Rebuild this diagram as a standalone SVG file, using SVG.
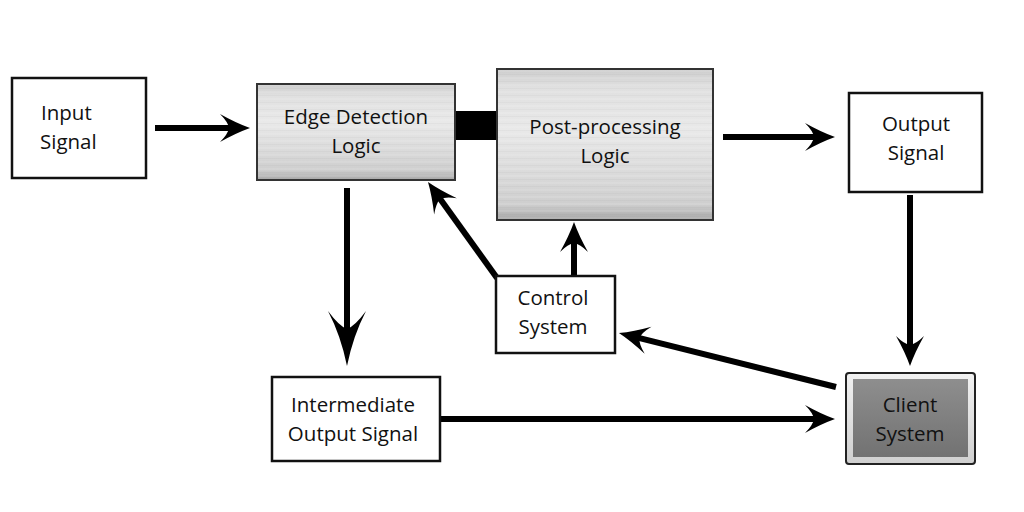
<svg xmlns="http://www.w3.org/2000/svg" width="1024" height="512" viewBox="0 0 1024 512">
<defs>
<style>
.box{fill:#fff;stroke:#111;stroke-width:2.5}
.metal{fill:url(#metal);stroke:#333;stroke-width:2}
.t{font-family:"Open Sans","Liberation Sans",sans-serif;font-size:20.5px;fill:#111}
.c{text-anchor:middle}
.ln{stroke:#000;stroke-width:6;fill:none}
</style>
<linearGradient id="metal" x1="0" y1="0" x2="0" y2="1">
<stop offset="0" stop-color="#cdcdcd"/>
<stop offset="0.12" stop-color="#e0e0e0"/>
<stop offset="0.4" stop-color="#e9e9e9"/>
<stop offset="0.7" stop-color="#dadada"/>
<stop offset="0.9" stop-color="#cecece"/>
<stop offset="1" stop-color="#a6a6a6"/>
</linearGradient>
<pattern id="brush" width="200" height="7" patternUnits="userSpaceOnUse">
<line x1="0" y1="1" x2="200" y2="1" stroke="#fff" stroke-opacity="0.2" stroke-width="1"/>
<line x1="0" y1="4.5" x2="200" y2="4.5" stroke="#777" stroke-opacity="0.06" stroke-width="1"/>
</pattern>
<linearGradient id="client" x1="0" y1="0" x2="0" y2="1">
<stop offset="0" stop-color="#8e8e8e"/>
<stop offset="1" stop-color="#727272"/>
</linearGradient>
<linearGradient id="bevel" x1="0" y1="0" x2="0" y2="1">
<stop offset="0" stop-color="#f2f2f2"/>
<stop offset="1" stop-color="#cfcfcf"/>
</linearGradient>
<marker id="ah" markerUnits="userSpaceOnUse" viewBox="-32 -16 34 32" markerWidth="34" markerHeight="32" refX="-12" refY="0" orient="auto">
<path d="M0,0 Q-14,-5 -30,-14 Q-22,-6 -21,0 Q-22,6 -30,14 Q-14,5 0,0 Z" fill="#000"/>
</marker>
<marker id="ahBig" markerUnits="userSpaceOnUse" viewBox="-58 -20 60 40" markerWidth="60" markerHeight="40" refX="-30" refY="0" orient="auto">
<path d="M0,0 Q-30,-6 -55,-19 Q-40,-8 -37,0 Q-40,8 -55,19 Q-30,6 0,0 Z" fill="#000"/>
</marker>
</defs>
<rect width="1024" height="512" fill="#fff"/>

<g id="connectors">
<line class="ln" x1="155" y1="128" x2="238" y2="128" marker-end="url(#ah)"/>
<rect x="455" y="111" width="43" height="29" fill="#000"/>
<line class="ln" x1="723" y1="137" x2="823" y2="137" marker-end="url(#ah)"/>
<line class="ln" x1="910" y1="195" x2="910" y2="354" marker-end="url(#ah)"/>
<line class="ln" x1="347" y1="188" x2="347" y2="336" marker-end="url(#ahBig)"/>
<line class="ln" x1="440" y1="419" x2="823" y2="419" marker-end="url(#ah)"/>
<line class="ln" x1="836" y1="387" x2="630.6" y2="335.9" marker-end="url(#ah)"/>
<line class="ln" x1="497" y1="278" x2="435" y2="191.7" marker-end="url(#ah)"/>
<line class="ln" x1="574" y1="276" x2="574" y2="234" marker-end="url(#ah)"/>
</g>

<g id="input-signal">
<rect class="box" x="12" y="78" width="134" height="100"/>
<text class="t" x="41" y="120">Input</text>
<text class="t" x="40" y="149">Signal</text>
</g>

<g id="edge-detection">
<rect class="metal" x="257" y="84" width="198" height="96"/>
<rect x="258" y="85" width="196" height="94" fill="url(#brush)"/>
<text class="t c" x="356" y="124">Edge Detection</text>
<text class="t c" x="356" y="153">Logic</text>
</g>

<g id="post-processing">
<rect class="metal" x="497" y="69" width="216" height="151"/>
<rect x="498" y="70" width="214" height="149" fill="url(#brush)"/>
<text class="t c" x="605" y="134">Post-processing</text>
<text class="t c" x="605" y="163">Logic</text>
</g>

<g id="output-signal">
<rect class="box" x="849" y="93" width="133" height="99"/>
<text class="t c" x="916" y="131">Output</text>
<text class="t c" x="916" y="160">Signal</text>
</g>

<g id="control-system">
<rect class="box" x="496" y="276" width="119" height="77"/>
<text class="t c" x="553" y="305">Control</text>
<text class="t c" x="553" y="334">System</text>
</g>

<g id="intermediate-output">
<rect class="box" x="272" y="377" width="168" height="84"/>
<text class="t c" x="353" y="412">Intermediate</text>
<text class="t c" x="353" y="441">Output Signal</text>
</g>

<g id="client-system">
<rect x="846" y="373" width="129" height="91" rx="3" fill="url(#bevel)" stroke="#222" stroke-width="2"/>
<rect x="853" y="379" width="115" height="78" fill="url(#client)"/>
<text class="t c" x="910" y="412">Client</text>
<text class="t c" x="910" y="441">System</text>
</g>
</svg>
